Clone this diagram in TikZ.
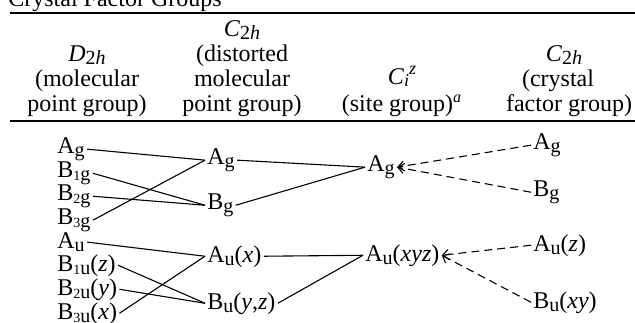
\documentclass[tikz,border=0pt]{standalone}
\usepackage{fontspec}
\setmainfont{Liberation Serif}
\usetikzlibrary{arrows.meta}
\newcommand\lo[1]{\raisebox{-0.35ex}{\fontsize{10}{10}\selectfont #1}}
\newcommand\dg[1]{{\fontsize{7}{7}\selectfont #1}}
\begin{document}
\begin{tikzpicture}[x=0.5pt,y=-0.5pt,
  lab/.style={anchor=base west,inner sep=1pt,font=\fontsize{12}{14}\selectfont},
  hdr/.style={anchor=base,inner sep=0pt,font=\fontsize{12}{14}\selectfont},
  conn/.style={line width=0.55pt},
  dconn/.style={line width=0.55pt,dash pattern=on 4pt off 2.5pt,-{Straight Barb[length=3pt,width=5pt]}},
  rulestyle/.style={line width=0.8pt}]
\useasboundingbox (0,0) rectangle (635,322);
\clip (0,0) rectangle (635,322);
% title and rules
\node[anchor=base west,inner sep=0pt,font=\fontsize{12}{14}\selectfont] (title) at (8,6) {Crystal Factor Groups};
\coordinate (r1a) at (10,13); \coordinate (r1b) at (635,13);
\coordinate (r2a) at (10,121); \coordinate (r2b) at (635,121);
\draw[rulestyle] (r1a) -- (r1b);
\draw[rulestyle] (r2a) -- (r2b);
% headers
\node[hdr] (h1a) at (87,61) {\textit{D}\lo{2\textit{h}}};
\node[hdr] (h1b) at (87,86) {(molecular};
\node[hdr] (h1c) at (87,111) {point group)};
\node[hdr] (h2a) at (242,36) {\textit{C}\lo{2\textit{h}}};
\node[hdr] (h2b) at (242,61) {(distorted};
\node[hdr] (h2c) at (242,86) {molecular};
\node[hdr] (h2d) at (242,111) {point group)};
\node[hdr] (h3a) at (402,84) {\textit{C}\raisebox{-0.25ex}{\fontsize{9}{9}\selectfont\textit{i}}\raisebox{0.9ex}{\fontsize{9}{9}\selectfont\textit{z}}};
\node[hdr] (h3b) at (402,111) {(site group)\textsuperscript{\textit{a}}};
\node[hdr] (h4a) at (564,61) {\textit{C}\lo{2\textit{h}}};
\node[hdr] (h4b) at (558,86) {(crystal};
\node[hdr] (h4c) at (569,111) {factor group)};
% left column
\node[lab] (lAg) at (55,153) {A\lo{g}};
\node[lab] (lB1g) at (55,177) {B\lo{\dg{1}g}};
\node[lab] (lB2g) at (55,200) {B\lo{\dg{2}g}};
\node[lab] (lB3g) at (55,224) {B\lo{\dg{3}g}};
\node[lab] (lAu) at (55,248) {A\lo{u}};
\node[lab] (lB1u) at (55,271) {B\lo{\dg{1}u}(\textit{z})};
\node[lab] (lB2u) at (55,295) {B\lo{\dg{2}u}(\textit{y})};
\node[lab] (lB3u) at (55,319) {B\lo{\dg{3}u}(\textit{x})};
% middle column
\node[lab] (mAg) at (205,164) {A\lo{g}};
\node[lab] (mBg) at (205,209) {B\lo{g}};
\node[lab] (mAu) at (205,262) {A\lo{u}(\textit{x})};
\node[lab] (mBu) at (205,309) {B\lo{u}(\textit{y},\textit{z})};
% site group column
\node[lab] (cAg) at (365,171) {A\lo{g}};
\node[lab] (cAu) at (363,261) {A\lo{u}(\textit{xyz})};
% crystal factor group column
\node[lab] (rAg) at (531,149) {A\lo{g}};
\node[lab] (rBg) at (531,196) {B\lo{g}};
\node[lab] (rAu) at (531,251) {A\lo{u}(\textit{z})};
\node[lab] (rBu) at (531,308) {B\lo{u}(\textit{xy})};
% correlations
\draw[conn] (lAg.east) -- (mAg.west);
\draw[conn] (lB3g.east) -- (mAg.west);
\draw[conn] (lB1g.east) -- (mBg.west);
\draw[conn] (lB2g.east) -- (mBg.west);
\draw[conn] (lAu.east) -- (mAu.west);
\draw[conn] (lB3u.east) -- (mAu.west);
\draw[conn] (lB1u.east) -- (mBu.west);
\draw[conn] (lB2u.east) -- (mBu.west);
\draw[conn] (mAg.east) -- (cAg.west);
\draw[conn] (mBg.east) -- (cAg.west);
\draw[conn] (mAu.east) -- (cAu.west);
\draw[conn] (mBu.east) -- (cAu.west);
\draw[dconn] (rAg.west) -- (cAg.east);
\draw[dconn] (rBg.west) -- (cAg.east);
\draw[dconn] (rAu.west) -- (cAu.east);
\draw[dconn] (rBu.west) -- (cAu.east);
\end{tikzpicture}
\end{document}
